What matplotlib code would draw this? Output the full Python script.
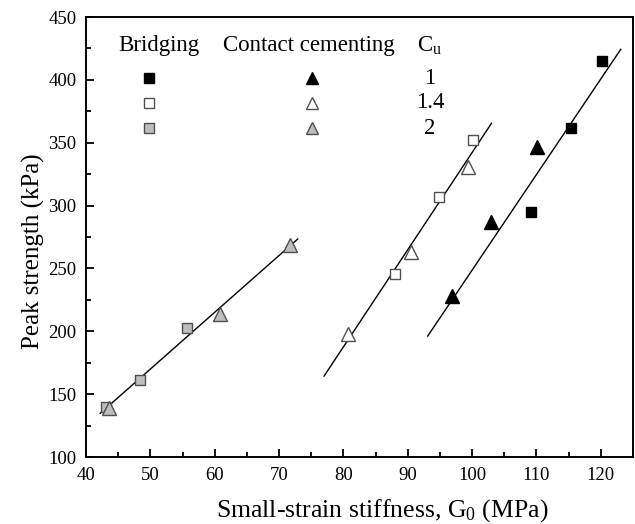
import matplotlib
matplotlib.use("Agg")
import matplotlib.pyplot as plt
from matplotlib.ticker import MultipleLocator

plt.rcParams['font.family'] = ['Liberation Serif', 'DejaVu Serif']
plt.rcParams['mathtext.fontset'] = 'custom'
plt.rcParams['mathtext.rm'] = 'Liberation Serif'
plt.rcParams['mathtext.it'] = 'Liberation Serif:italic'

# Data (G0 in MPa, peak strength in kPa)
cu_labels = ["1", "1.4", "2"]
bridging_x = [[120.2, 115.3, 109.1], [100.2, 94.9, 88.0], [43.1, 48.4, 55.7]]
bridging_y = [[415.2, 361.4, 295.1], [352.0, 306.6, 245.3], [140.0, 161.2, 202.3]]
cement_x = [[96.8, 103.0, 110.1], [80.7, 90.5, 99.3], [43.5, 60.8, 71.7]]
cement_y = [[228.3, 287.0, 346.8], [197.8, 263.3, 331.0], [138.7, 213.5, 268.6]]

# Fitted trend lines (end points)
fit_x = [[93.1, 123.1], [77.0, 103.0], [42.2, 72.9]]
fit_y = [[196.2, 424.3], [164.4, 365.4], [134.7, 273.4]]

face = ['black', 'white', '#bdbdbd']
edge = ['black', '#505050', '#505050']

fig = plt.figure(figsize=(6.35, 5.24), dpi=100)
ax = fig.add_axes([86/635, 67/524, 547/635, 440/524])

for i in range(3):
    ax.plot(fit_x[i], fit_y[i], color='black', lw=1.0, zorder=2)
    ax.plot(bridging_x[i], bridging_y[i], ls='none', marker='s', ms=7.6,
            mfc=face[i], mec=edge[i], mew=1.0, zorder=3)
    ax.plot(cement_x[i], cement_y[i], ls='none', marker='^', ms=10,
            mfc=face[i], mec=edge[i], mew=1.0, zorder=3)

ax.set_xlim(40, 125)
ax.set_ylim(100, 450)
ax.xaxis.set_major_locator(MultipleLocator(10))
ax.xaxis.set_minor_locator(MultipleLocator(5))
ax.yaxis.set_major_locator(MultipleLocator(50))
ax.yaxis.set_minor_locator(MultipleLocator(25))
ax.set_xticks([40, 50, 60, 70, 80, 90, 100, 110, 120])
ax.tick_params(which='both', direction='in', top=False, right=False,
               labelsize=13.5, width=1.3, pad=7)
ax.tick_params(which='major', length=6)
ax.tick_params(which='minor', length=3.5)
for s in ax.spines.values():
    s.set_linewidth(1.4)

ax.set_xlabel('Small-strain stiffness, G$_0$ (MPa)', fontsize=18.5, labelpad=10)
ax.set_ylabel('Peak strength (kPa)', fontsize=18, labelpad=2)
ax.xaxis.label.set_x(0.541)
ax.yaxis.label.set_y(0.468)

# Custom legend table
T = ax.transAxes
def ax_x(px):
    return (px - 86) / 547
def ax_y(py):
    return (457 - py) / 440

fs = 16.5
ax.text(ax_x(159), ax_y(46), 'Bridging', transform=T, ha='center', va='center', fontsize=fs)
ax.text(ax_x(309), ax_y(46), 'Contact cementing', transform=T, ha='center', va='center', fontsize=fs)
ax.text(ax_x(430), ax_y(46), 'C$_\\mathrm{u}$', transform=T, ha='center', va='center', fontsize=fs)
rows = [78, 103, 128]
for i in range(3):
    ax.plot([ax_x(149)], [ax_y(rows[i])], transform=T, ls='none', marker='s', ms=6.8,
            mfc=face[i], mec=edge[i], mew=1.0, clip_on=False)
    ax.plot([ax_x(312)], [ax_y(rows[i])], transform=T, ls='none', marker='^', ms=9,
            mfc=face[i], mec=edge[i], mew=1.0, clip_on=False)
    ax.text(ax_x(430), ax_y(rows[i]), cu_labels[i], transform=T, ha='center', va='center', fontsize=fs)

fig.savefig('out.png', dpi=100)
